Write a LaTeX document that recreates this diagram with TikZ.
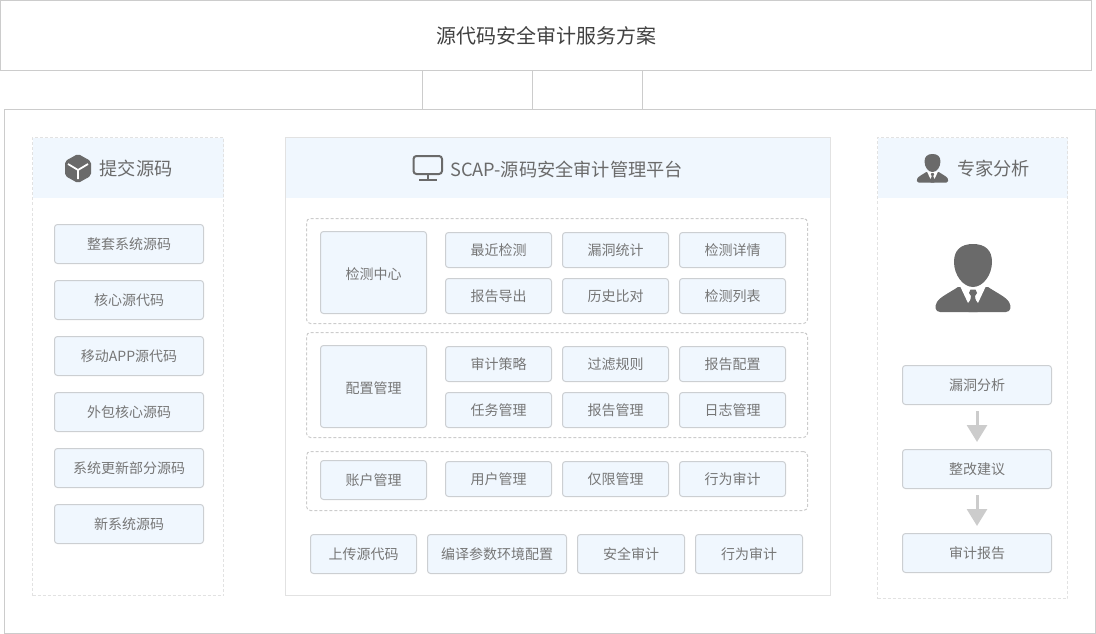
\documentclass[tikz,border=0pt]{standalone}
\usepackage{fontspec}
\setmainfont{Noto Sans CJK SC}
\usepackage{xcolor}
\definecolor{lineColor}{RGB}{204, 204, 204}
\definecolor{panelColor}{RGB}{226, 226, 226}
\definecolor{itemColor}{RGB}{204, 207, 210}
\definecolor{tintColor}{RGB}{240, 247, 254}
\definecolor{inkColor}{RGB}{106, 106, 106}
\definecolor{textColor}{RGB}{118, 118, 118}
\usetikzlibrary{arrows.meta, positioning}
\tikzset{
    frame/.style={draw=lineColor, line width=1pt, inner sep=0pt},
    panel/.style={draw=panelColor, line width=1pt, dash pattern=on 3pt off 2pt, inner sep=0pt},
    headband/.style={fill=tintColor, inner sep=0pt},
    groupbox/.style={draw=lineColor, line width=1pt, dash pattern=on 3pt off 2pt, rounded corners=4pt, inner sep=0pt},
    itembox/.style={draw=itemColor, fill=tintColor, line width=1pt, rounded corners=3pt, inner sep=0pt, text=textColor, font=\fontsize{14}{16}\selectfont},
    wide/.style={itembox, minimum width=149pt, minimum height=39pt},
    cell/.style={itembox, minimum width=106pt, minimum height=35pt},
    block/.style={itembox, minimum width=106pt, minimum height=39pt},
    tallblock/.style={block, minimum height=82pt, text height=14pt, text depth=0pt},
    headtext/.style={inner sep=0pt, text=inkColor, font=\fontsize{18.2}{20}\selectfont},
    person/.pic={
        \fill[inkColor] (-33,68) .. controls (-38,68) and (-38.5,62) .. (-36,58) .. controls (-33,53) and (-24,49) .. (-15,43)
            -- (15,43) .. controls (24,49) and (33,53) .. (36,58) .. controls (38.5,62) and (38,68) .. (33,68) -- cycle;
        \fill[white] (-13,42) -- (-5,59) -- (0,52) -- (5,59) -- (13,42) -- cycle;
        \fill[inkColor] (-4,49) -- (-2.5,45.5) -- (2.5,45.5) -- (4,49) -- (2,52) -- (4.5,68) -- (-4.5,68) -- (-2,52) -- cycle;
        \fill[inkColor] (0,0) .. controls (12,0) and (19,6) .. (19,18) .. controls (19,31) and (10,43) .. (0,43)
            .. controls (-10,43) and (-19,31) .. (-19,18) .. controls (-19,6) and (-12,0) .. (0,0) -- cycle;
    },
}

\begin{document}
\begin{tikzpicture}[x=1pt, y=-1pt]
    \useasboundingbox (0,0) rectangle (1096,634);
    % outer frames
    \node[frame, minimum width=1091pt, minimum height=70pt, text=black!75, font=\fontsize{20}{24}\selectfont] (title) at (546,35.5) {源代码安全审计服务方案};
    \node[frame, minimum width=1091pt, minimum height=524pt] (outer) at (550,371.5) {};
    \coordinate (linkA) at (422.5,70.5);
    \coordinate (linkB) at (532.5,70.5);
    \coordinate (linkC) at (642.5,70.5);
    \draw[lineColor, line width=1pt] (linkA) -- (linkA |- outer.north);
    \draw[lineColor, line width=1pt] (linkB) -- (linkB |- outer.north);
    \draw[lineColor, line width=1pt] (linkC) -- (linkC |- outer.north);

    % left column
    \node[headband, minimum width=191pt, minimum height=60pt] (submitHead) at (128,168) {};
    \node[panel, minimum width=191pt, minimum height=458pt] (submitPanel) at (128,366.5) {};
    \node[headtext] (submitText) at (136,169) {提交源码};
    \fill[inkColor, draw=inkColor, line width=1pt, line join=round, rounded corners=2pt] (78,154.5) -- (90.5,161.5) -- (90.5,175.5) -- (78,182.5) -- (65.5,175.5) -- (65.5,161.5) -- cycle;
    \draw[white, line width=1.8pt] (68,164) -- (78,170) -- (88,164) (78,170) -- (78,179);
    \node[wide] (srcA) at (129,244) {整套系统源码};
    \node[wide] (srcB) at (129,300) {核心源代码};
    \node[wide] (srcC) at (129,356) {移动APP源代码};
    \node[wide] (srcD) at (129,412) {外包核心源码};
    \node[wide] (srcE) at (129,468) {系统更新部分源码};
    \node[wide] (srcF) at (129,524) {新系统源码};

    % middle column
    \node[headband, minimum width=545pt, minimum height=60pt] (scapHead) at (558,168) {};
    \node[draw=panelColor, line width=1pt, inner sep=0pt, minimum width=545pt, minimum height=458pt] (scapPanel) at (558,366.5) {};
    \node[headtext] (scapText) at (566.5,169) {SCAP-源码安全审计管理平台};
    \draw[inkColor, line width=2pt, rounded corners=3pt] (413.5,156) rectangle (442,174);
    \draw[inkColor, line width=2pt] (428,174) -- (428,180);
    \draw[inkColor, line width=2pt] (419,180) -- (437,180);

    \node[groupbox, minimum width=501pt, minimum height=105pt] (groupA) at (557,271) {};
    \node[groupbox, minimum width=501pt, minimum height=105pt] (groupB) at (557,385) {};
    \node[groupbox, minimum width=501pt, minimum height=59pt] (groupC) at (557,481) {};

    \node[tallblock] (detect) at (373.5,272.5) {检测中心};
    \node[cell] (detectA) at (498.5,250) {最近检测};
    \node[cell] (detectB) at (615.5,250) {漏洞统计};
    \node[cell] (detectC) at (732.5,250) {检测详情};
    \node[cell] (detectD) at (498.5,296) {报告导出};
    \node[cell] (detectE) at (615.5,296) {历史比对};
    \node[cell] (detectF) at (732.5,296) {检测列表};

    \node[tallblock] (config) at (373.5,386.5) {配置管理};
    \node[cell] (configA) at (498.5,364) {审计策略};
    \node[cell] (configB) at (615.5,364) {过滤规则};
    \node[cell] (configC) at (732.5,364) {报告配置};
    \node[cell] (configD) at (498.5,410) {任务管理};
    \node[cell] (configE) at (615.5,410) {报告管理};
    \node[cell] (configF) at (732.5,410) {日志管理};

    \node[block] (account) at (373.5,480) {账户管理};
    \node[cell] (accountA) at (498.5,479) {用户管理};
    \node[cell] (accountB) at (615.5,479) {仅限管理};
    \node[cell] (accountC) at (732.5,479) {行为审计};

    \node[block] (stepA) at (363.5,554) {上传源代码};
    \node[block, minimum width=139pt] (stepB) at (497,554) {编译参数环境配置};
    \node[block, minimum width=107pt] (stepC) at (631,554) {安全审计};
    \node[block, minimum width=107pt] (stepD) at (749,554) {行为审计};

    % right column
    \node[headband, minimum width=190pt, minimum height=60pt] (expertHead) at (972.5,168) {};
    \node[panel, minimum width=190pt, minimum height=461pt] (expertPanel) at (972.5,368) {};
    \node[headtext] (expertText) at (993.5,169) {专家分析};
    \pic[scale=0.42] at (932.5,154) {person};
    \pic at (973,244) {person};
    \node[wide] (vuln) at (977,385) {漏洞分析};
    \node[wide] (advice) at (977,469) {整改建议};
    \node[wide] (report) at (977,553) {审计报告};
    \draw[-{Triangle[length=17pt, width=20pt]}, lineColor, line width=3pt, shorten <=6pt, shorten >=7pt] (vuln) -- (advice);
    \draw[-{Triangle[length=17pt, width=20pt]}, lineColor, line width=3pt, shorten <=6pt, shorten >=7pt] (advice) -- (report);
\end{tikzpicture}
\end{document}
